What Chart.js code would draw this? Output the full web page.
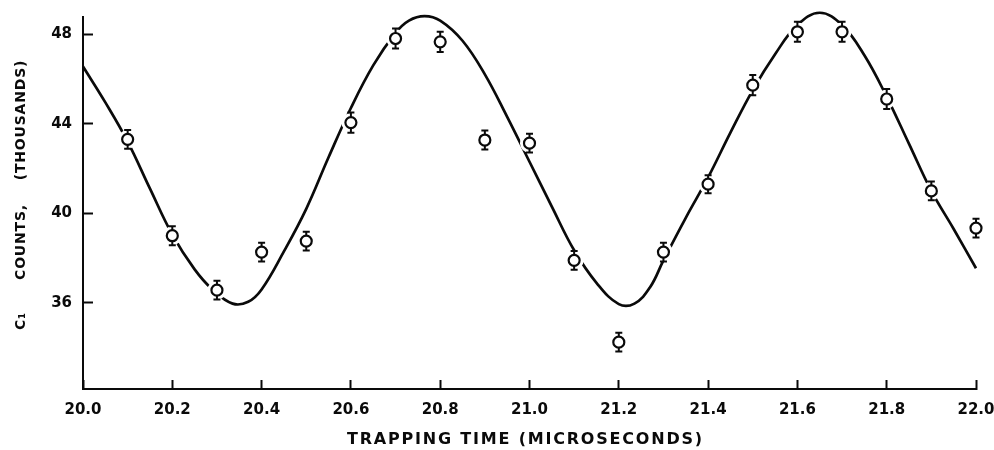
<!DOCTYPE html>
<html>
<head>
<meta charset="utf-8">
<title>Trapping time counts</title>
<script src="https://cdn.jsdelivr.net/npm/chart.js@4/dist/chart.umd.min.js"></script>
<style>
  html, body { margin: 0; padding: 0; background: #fff; }
</style>
</head>
<body>
<canvas id="countsChart" width="994" height="450"></canvas>
<script>
// tick positions
const xTicks = [20.0, 20.2, 20.4, 20.6, 20.8, 21.0, 21.2, 21.4, 21.6, 21.8, 22.0];
const yTicks = [36, 40, 44, 48];

// measured counts (thousands) with their errors
const pointTimes = [20.1, 20.2, 20.3, 20.4, 20.5, 20.6, 20.7, 20.8, 20.9, 21.0,
                    21.1, 21.2, 21.3, 21.4, 21.5, 21.6, 21.7, 21.8, 21.9, 22.0];
const pointCounts = [43.3, 39.0, 36.57, 38.27, 38.76, 44.05, 47.8, 47.65, 43.27, 43.13,
                     37.9, 34.25, 38.27, 41.3, 45.72, 48.1, 48.1, 45.1, 41.0, 39.34];
const pointErrors = [0.42, 0.42, 0.42, 0.42, 0.42, 0.45, 0.45, 0.45, 0.42, 0.42,
                     0.42, 0.42, 0.42, 0.4, 0.45, 0.45, 0.45, 0.45, 0.42, 0.42];

// fitted curve
const fitTimes = [20.00, 20.05, 20.10, 20.15, 20.20, 20.25, 20.29, 20.335, 20.37, 20.40,
                  20.45, 20.50, 20.55, 20.60, 20.65, 20.70, 20.73, 20.765, 20.80, 20.85,
                  20.90, 20.95, 21.00, 21.05, 21.10, 21.15, 21.20, 21.235, 21.27, 21.30,
                  21.35, 21.40, 21.45, 21.50, 21.55, 21.60, 21.65, 21.70, 21.75, 21.80,
                  21.85, 21.90, 21.95, 22.00];
const fitCounts = [46.55, 44.95, 43.2, 41.1, 39.05, 37.5, 36.6, 35.97, 36.05, 36.6,
                   38.3, 40.2, 42.5, 44.7, 46.6, 48.05, 48.6, 48.8, 48.6, 47.7,
                   46.2, 44.3, 42.3, 40.3, 38.35, 36.9, 35.95, 35.97, 36.7, 37.9,
                   39.8, 41.6, 43.6, 45.5, 47.1, 48.4, 48.95, 48.4, 47.05, 45.2,
                   43.1, 41.0, 39.3, 37.55];

const xTitle = 'TRAPPING TIME (MICROSECONDS)';
const yTitleParts = ['(THOUSANDS)', 'COUNTS,', 'C\u2081'];

const ink = '#0a0a0a';
const tickFont = { family: '"DejaVu Sans", sans-serif', size: 15, weight: 'bold' };

const measured = pointTimes.map((t, i) => ({ x: t, y: pointCounts[i] }));
const fitted = fitTimes.map((t, i) => ({ x: t, y: fitCounts[i] }));

// vertical error bars, drawn just before the open circles so the fill covers the middle
const errorBars = {
  id: 'errorBars',
  beforeDatasetDraw(chart, args) {
    if (args.index !== 2) return;
    const { ctx, scales: { x, y } } = chart;
    ctx.save();
    ctx.strokeStyle = ink;
    ctx.lineWidth = 2;
    pointTimes.forEach((t, i) => {
      const px = x.getPixelForValue(t);
      const top = y.getPixelForValue(pointCounts[i] + pointErrors[i]);
      const bot = y.getPixelForValue(pointCounts[i] - pointErrors[i]);
      ctx.beginPath();
      ctx.moveTo(px, top); ctx.lineTo(px, bot);
      ctx.moveTo(px - 3.5, top); ctx.lineTo(px + 3.5, top);
      ctx.moveTo(px - 3.5, bot); ctx.lineTo(px + 3.5, bot);
      ctx.stroke();
    });
    ctx.restore();
  }
};

// spaced-out axis titles
const axisTitles = {
  id: 'axisTitles',
  afterDraw(chart) {
    const { ctx, chartArea } = chart;
    ctx.save();
    ctx.fillStyle = ink;
    ctx.textAlign = 'center';
    ctx.textBaseline = 'middle';
    ctx.font = 'bold 16px "DejaVu Sans"';
    ctx.letterSpacing = '1.8px';
    ctx.fillText(xTitle, (chartArea.left + chartArea.right) / 2 - 4, 440);

    ctx.font = 'bold 14px "DejaVu Sans"';
    ctx.letterSpacing = '0.8px';
    ctx.translate(21, 0);
    ctx.rotate(-Math.PI / 2);
    const centers = [120, 242, 321];
    yTitleParts.forEach((s, i) => ctx.fillText(s, -centers[i], 0));
    ctx.restore();
  }
};

function fixBox(size, prop) {
  return scale => {
    scale[prop] = size;
    scale.paddingLeft = scale.paddingRight = scale.paddingTop = scale.paddingBottom = 0;
  };
}

new Chart(document.getElementById('countsChart'), {
  type: 'scatter',
  data: {
    datasets: [
      {
        type: 'line',
        data: fitted,
        borderColor: ink,
        borderWidth: 2.7,
        pointRadius: 0,
        tension: 0.4,
        clip: false,
        order: 3
      },
      {
        // white halo that breaks the curve around each point
        data: measured,
        pointRadius: 9.5,
        pointBorderWidth: 0,
        pointBackgroundColor: '#fff',
        clip: false,
        order: 2
      },
      {
        data: measured,
        pointRadius: 5.5,
        pointBorderWidth: 2.2,
        pointBorderColor: ink,
        pointBackgroundColor: '#fff',
        clip: false,
        order: 1
      }
    ]
  },
  options: {
    responsive: false,
    animation: false,
    events: [],
    layout: { padding: { left: 0, right: 18, top: 17, bottom: 0 } },
    plugins: { legend: { display: false }, tooltip: { enabled: false } },
    scales: {
      x: {
        type: 'linear',
        position: 'bottom',
        min: 20,
        max: 22,
        afterBuildTicks: s => { s.ticks = xTicks.map(v => ({ value: v })); },
        afterFit: fixBox(61, 'height'),
        border: { color: ink, width: 2 },
        grid: { drawOnChartArea: false, drawTicks: true, tickLength: -9, tickWidth: 2, tickColor: ink },
        ticks: {
          color: ink,
          font: tickFont,
          padding: 21,
          maxRotation: 0,
          autoSkip: false,
          callback: v => v.toFixed(1)
        }
      },
      y: {
        type: 'linear',
        min: 32.16,
        max: 48.76,
        afterBuildTicks: s => { s.ticks = yTicks.map(v => ({ value: v })); },
        afterFit: fixBox(83, 'width'),
        border: { color: ink, width: 2 },
        grid: { drawOnChartArea: false, drawTicks: true, tickLength: -10, tickWidth: 2, tickColor: ink },
        ticks: {
          color: ink,
          font: tickFont,
          padding: 21,
          callback: v => String(v)
        }
      }
    }
  },
  plugins: [errorBars, axisTitles]
});
</script>
</body>
</html>
